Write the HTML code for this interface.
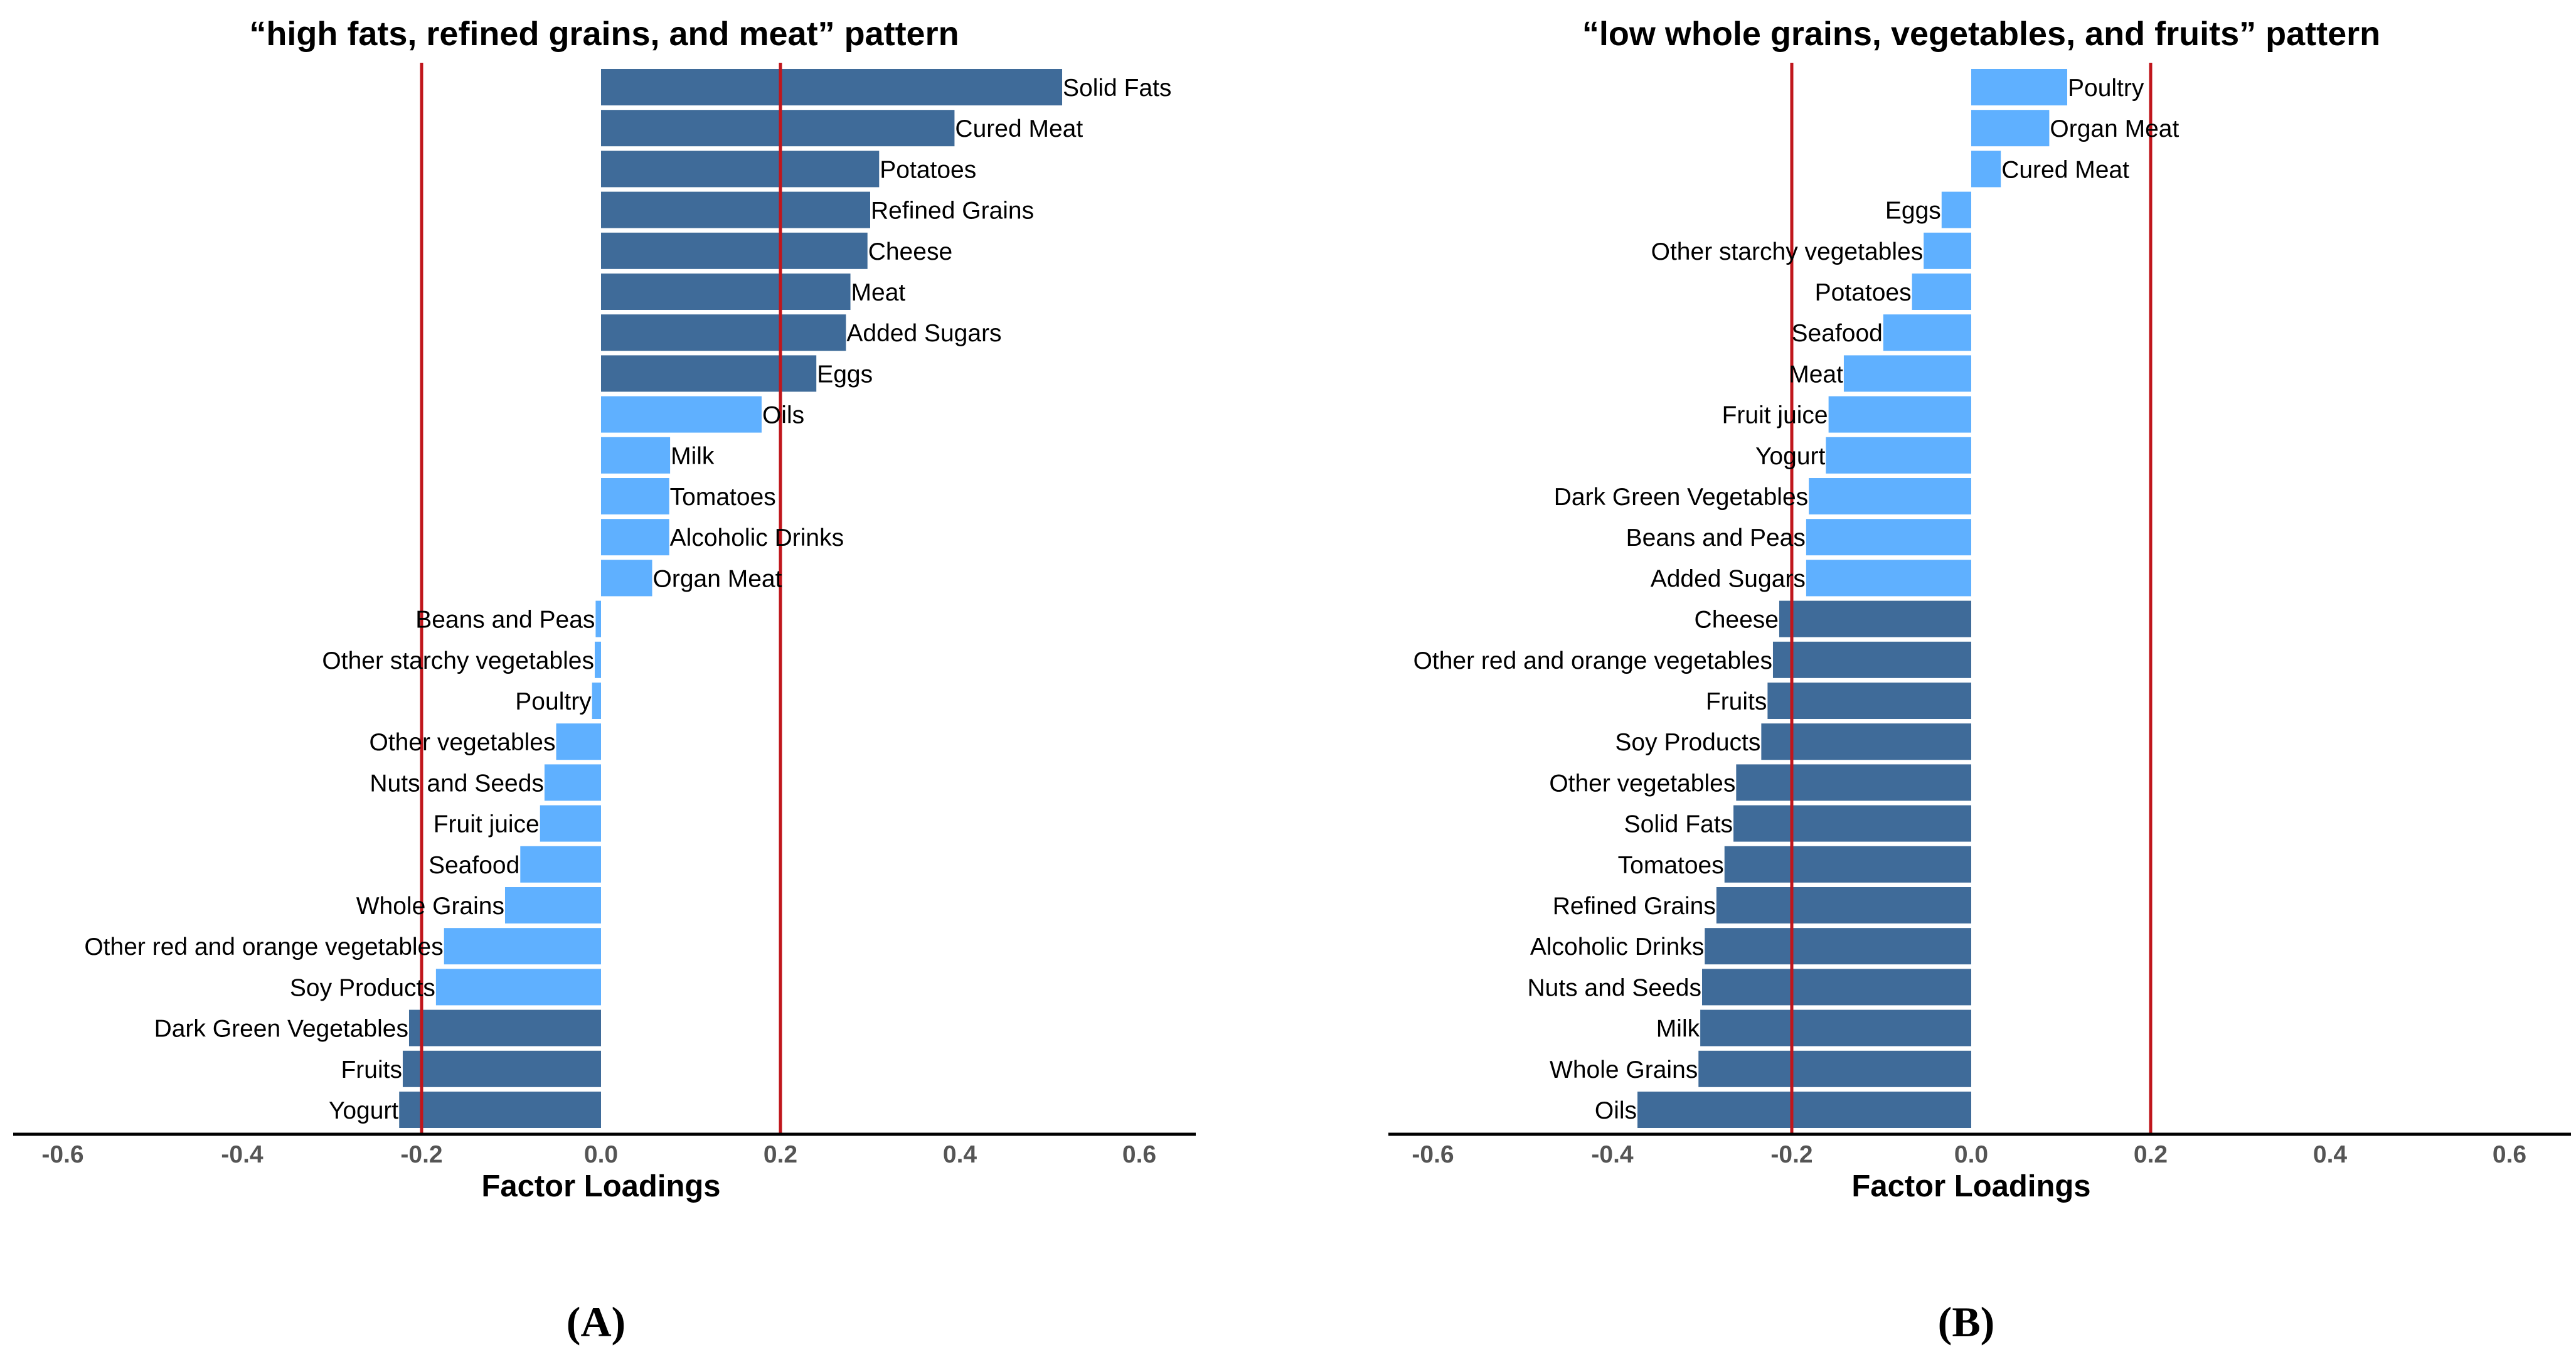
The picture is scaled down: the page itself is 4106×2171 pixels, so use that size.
<!DOCTYPE html>
<html><head><meta charset="utf-8"><style>
html,body{margin:0;padding:0;background:#fff;}
svg{display:block;}
</style></head>
<body>
<svg id="c" width="4106" height="2171" viewBox="0 0 4106 2171" xmlns="http://www.w3.org/2000/svg" style="font-family:'Liberation Sans',Arial,sans-serif"></svg>
<script>
const catsA = ["Solid Fats","Cured Meat","Potatoes","Refined Grains","Cheese","Meat","Added Sugars","Eggs","Oils","Milk","Tomatoes","Alcoholic Drinks","Organ Meat","Beans and Peas","Other starchy vegetables","Poultry","Other vegetables","Nuts and Seeds","Fruit juice","Seafood","Whole Grains","Other red and orange vegetables","Soy Products","Dark Green Vegetables","Fruits","Yogurt"];
const valsA = [0.514,0.394,0.310,0.300,0.297,0.278,0.273,0.240,0.179,0.077,0.076,0.076,0.057,-0.006,-0.007,-0.010,-0.050,-0.063,-0.068,-0.090,-0.107,-0.175,-0.184,-0.214,-0.221,-0.225];
const catsB = ["Poultry","Organ Meat","Cured Meat","Eggs","Other starchy vegetables","Potatoes","Seafood","Meat","Fruit juice","Yogurt","Dark Green Vegetables","Beans and Peas","Added Sugars","Cheese","Other red and orange vegetables","Fruits","Soy Products","Other vegetables","Solid Fats","Tomatoes","Refined Grains","Alcoholic Drinks","Nuts and Seeds","Milk","Whole Grains","Oils"];
const valsB = [0.107,0.087,0.033,-0.033,-0.053,-0.066,-0.098,-0.142,-0.159,-0.162,-0.181,-0.184,-0.184,-0.214,-0.221,-0.227,-0.234,-0.262,-0.265,-0.275,-0.284,-0.297,-0.300,-0.302,-0.304,-0.372];
const ticks = [-0.6,-0.4,-0.2,0.0,0.2,0.4,0.6];
const refLines = [-0.2,0.2];
const titles = ["\u201chigh fats, refined grains, and meat\u201d pattern","\u201clow whole grains, vegetables, and fruits\u201d pattern"];
const panelLetters = ["(A)","(B)"];

const NS="http://www.w3.org/2000/svg";
const svg=document.getElementById('c');
function mk(tag,attrs,parent){const e=document.createElementNS(NS,tag);for(const k in attrs)e.setAttribute(k,attrs[k]);(parent||svg).appendChild(e);return e;}

function panel(idx,cats,vals,zeroX,axL,axR,cx){
  const g=mk('g',{});
  
  
  const unit=1430;
  const xs=v=>zeroX+v*unit;
  const top=110, step=65.2, bh=58;
  const ys=i=>top+i*step;
  const AY=1808;
  const t=mk('text',{x:cx,y:72,'font-size':54,'font-weight':'bold','text-anchor':'middle',fill:'#000'},g);
  t.textContent=titles[idx];
  
  
  cats.forEach((c,i)=>{
    const v=vals[i];
    const x0=Math.min(xs(0),xs(v)), w=Math.abs(xs(v)-xs(0));
    const r=mk('rect',{x:x0,y:ys(i),width:w,height:bh,fill:Math.abs(v)>=0.2?'#3f6b99':'#5fb0ff'},g);
    
    
  });
  refLines.forEach(v=>{
    const l=mk('line',{x1:xs(v),x2:xs(v),y1:100,y2:AY,stroke:'#c0161c','stroke-width':5},g);
    
    
  });
  cats.forEach((c,i)=>{
    const v=vals[i];
    const tx=mk('text',{x:xs(v)+(v>=0?1:-1),y:ys(i)+bh/2+14,'font-size':39,'text-anchor':v>=0?'start':'end',fill:'#000'},g);
    tx.textContent=c;
    
    
  });
  const ax=mk('line',{x1:axL,x2:axR,y1:AY,y2:AY,stroke:'#000','stroke-width':5},g);
  
  
  ticks.forEach(v=>{
    const tl=mk('text',{x:xs(v),y:1853,'font-size':39,'font-weight':'bold','text-anchor':'middle',fill:'#555'},g);
    tl.textContent=v.toFixed(1);
    
    
  });
  const at=mk('text',{x:xs(0),y:1907,'font-size':49,'font-weight':'bold','text-anchor':'middle',fill:'#000'},g);
  at.textContent='Factor Loadings';
  
  
  const pl=mk('text',{x:xs(0)-8,y:2130,'font-size':68,'text-anchor':'middle',fill:'#000','font-weight':'bold',style:"font-family:'Liberation Serif',serif"},g);
  pl.textContent=panelLetters[idx];
  
  
}
panel(0,catsA,valsA,958,21,1906,963);
panel(1,catsB,valsB,3142,2213,4098,3158);
</script>
</body></html>
